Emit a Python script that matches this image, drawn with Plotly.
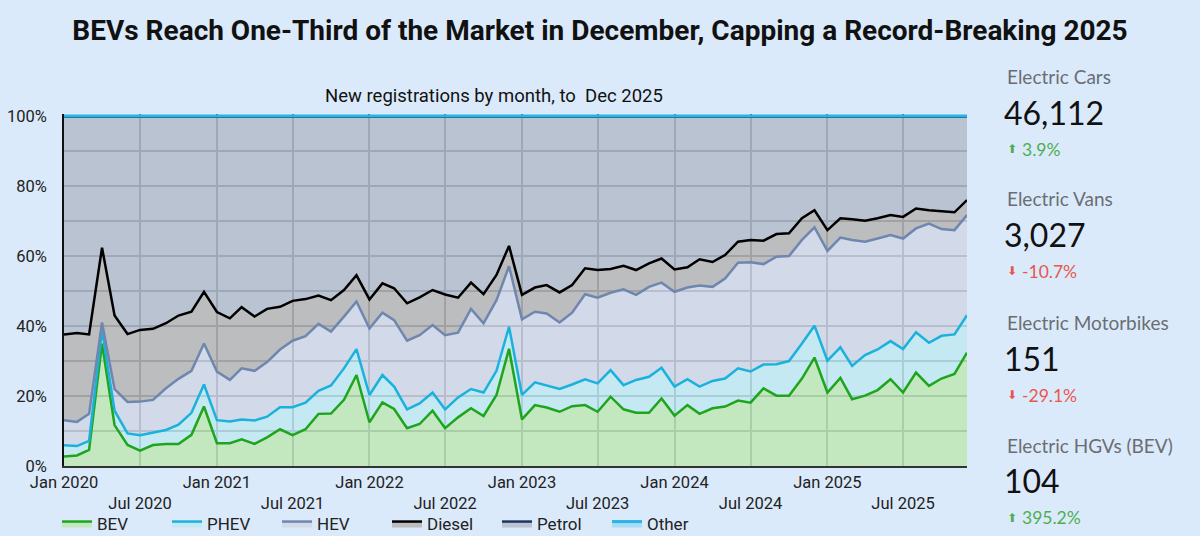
import pandas as pd
import plotly.graph_objects as go

months = pd.date_range("2020-01-01", periods=72, freq="MS")

bev = [2.7, 3.0, 4.6, 35.0, 11.7, 6.0, 4.4, 6.0, 6.3, 6.3, 8.9, 17.0,
       6.5, 6.5, 7.6, 6.3, 8.2, 10.5, 8.8, 10.5, 14.9, 15.0, 18.9, 26.0,
       12.5, 18.2, 16.3, 10.8, 12.0, 15.8, 10.8, 13.9, 16.5, 14.3, 20.3, 33.5,
       13.3, 17.4, 16.7, 15.5, 17.1, 17.4, 15.5, 19.8, 16.2, 15.2, 15.2, 19.3,
       14.4, 17.4, 14.9, 16.5, 17.0, 18.7, 18.1, 22.2, 20.1, 20.1, 25.0, 31.0,
       21.0, 25.2, 19.1, 20.1, 21.7, 24.8, 21.0, 26.7, 22.9, 25.0, 26.3, 32.4]

phev = [3.2, 2.7, 2.6, 3.9, 4.1, 3.3, 4.4, 3.5, 4.0, 5.5, 6.3, 6.3,
        6.6, 6.2, 5.7, 6.7, 5.9, 6.3, 8.0, 7.6, 6.6, 8.0, 9.0, 7.4,
        7.8, 7.8, 6.4, 5.4, 5.9, 5.2, 5.4, 5.7, 5.5, 6.7, 6.9, 6.3,
        7.0, 6.5, 6.2, 6.5, 6.2, 7.4, 8.1, 7.6, 6.9, 9.4, 10.3, 8.8,
        8.3, 7.4, 7.8, 7.8, 8.0, 9.2, 8.9, 6.8, 9.0, 9.9, 10.0, 9.1,
        9.1, 8.7, 9.5, 11.6, 11.6, 10.9, 12.4, 11.5, 12.3, 12.2, 11.3, 10.7]

hev = [7.2, 6.9, 7.7, 2.1, 6.2, 9.0, 9.6, 9.4, 11.9, 13.1, 12.0, 11.7,
       13.9, 11.9, 14.6, 14.2, 15.6, 16.5, 19.0, 19.0, 19.1, 15.4, 14.8, 13.6,
       19.0, 17.8, 19.0, 19.6, 19.5, 19.3, 21.2, 18.5, 22.9, 19.8, 20.2, 17.3,
       21.6, 20.2, 20.7, 19.0, 20.5, 24.3, 24.5, 22.1, 27.4, 24.3, 25.7, 24.3,
       27.1, 26.2, 28.9, 26.9, 28.6, 30.2, 31.2, 28.7, 30.7, 30.0, 29.6, 28.1,
       31.4, 31.4, 36.0, 32.4, 31.7, 30.3, 31.6, 29.7, 34.1, 30.5, 29.8, 28.6]

diesel = [24.5, 25.4, 22.7, 21.4, 21.0, 19.4, 20.5, 20.3, 18.6, 18.1, 16.9, 14.8,
          17.0, 17.6, 17.5, 15.5, 15.2, 12.2, 11.4, 10.6, 8.1, 9.0, 7.6, 7.5,
          8.3, 8.4, 9.1, 10.7, 10.8, 10.0, 11.6, 10.0, 7.5, 8.3, 7.2, 5.8,
          7.0, 6.9, 8.1, 8.6, 7.9, 7.4, 7.9, 6.8, 6.7, 7.1, 6.7, 6.9,
          6.4, 5.8, 7.5, 7.1, 6.7, 6.0, 6.4, 6.7, 6.5, 6.5, 6.2, 4.9,
          5.9, 5.5, 5.9, 6.0, 5.8, 5.7, 6.2, 5.7, 3.8, 5.0, 5.1, 4.3]

petrol = [62.2, 61.8, 62.1, 37.3, 56.8, 62.1, 60.9, 60.6, 59.0, 56.8, 55.7, 50.0,
          55.8, 57.6, 54.4, 57.1, 54.9, 54.3, 52.6, 52.1, 51.1, 52.4, 49.5, 45.3,
          52.2, 47.6, 49.0, 53.3, 51.6, 49.5, 50.8, 51.7, 47.4, 50.7, 45.2, 36.9,
          50.9, 48.8, 48.1, 50.2, 48.1, 43.3, 43.8, 43.5, 42.6, 43.8, 41.9, 40.5,
          43.6, 43.0, 40.7, 41.5, 39.5, 35.7, 35.2, 35.4, 33.5, 33.3, 29.0, 26.7,
          32.4, 29.0, 29.3, 29.7, 29.0, 28.1, 28.6, 26.2, 26.7, 27.1, 27.3, 23.8]

other = [0.2, 0.2, 0.3, 0.3, 0.2, 0.2, 0.2, 0.2, 0.2, 0.2, 0.2, 0.2,
         0.2, 0.2, 0.2, 0.2, 0.2, 0.2, 0.2, 0.2, 0.2, 0.2, 0.2, 0.2,
         0.2, 0.2, 0.2, 0.2, 0.2, 0.2, 0.2, 0.2, 0.2, 0.2, 0.2, 0.2,
         0.2, 0.2, 0.2, 0.2, 0.2, 0.2, 0.2, 0.2, 0.2, 0.2, 0.2, 0.2,
         0.2, 0.2, 0.2, 0.2, 0.2, 0.2, 0.2, 0.2, 0.2, 0.2, 0.2, 0.2,
         0.2, 0.2, 0.2, 0.2, 0.2, 0.2, 0.2, 0.2, 0.2, 0.2, 0.2, 0.2]

x_tick_vals = ["2020-01-01", "2020-07-01", "2021-01-01", "2021-07-01", "2022-01-01",
               "2022-07-01", "2023-01-01", "2023-07-01", "2024-01-01", "2024-07-01",
               "2025-01-01", "2025-07-01"]
x_tick_text = ["Jan 2020", "<br>Jul 2020", "Jan 2021", "<br>Jul 2021", "Jan 2022",
               "<br>Jul 2022", "Jan 2023", "<br>Jul 2023", "Jan 2024", "<br>Jul 2024",
               "Jan 2025", "<br>Jul 2025"]
y_tick_vals = [0, 10, 20, 30, 40, 50, 60, 70, 80, 90, 100]
y_tick_text = ["0%", "", "20%", "", "40%", "", "60%", "", "80%", "", "100%"]

kpi_labels = ["Electric Cars", "Electric Vans", "Electric Motorbikes", "Electric HGVs (BEV)"]
kpi_values = ["46,112", "3,027", "151", "104"]
kpi_changes = ["3.9%", "-10.7%", "-29.1%", "395.2%"]
kpi_up = [True, False, False, True]

series = [
    ("BEV", bev, "#1ea51e", "rgba(189,231,178,0.8)", 2.5),
    ("PHEV", phev, "#1ab2dc", "rgba(190,232,241,0.8)", 2.5),
    ("HEV", hev, "#6f87ae", "rgba(207,212,227,0.8)", 2.5),
    ("Diesel", diesel, "#000000", "rgba(180,177,176,0.8)", 2.5),
    ("Petrol", petrol, "#1c3560", "rgba(176,185,199,0.8)", 2.5),
    ("Other", other, "#28b4e6", "rgba(155,216,243,0.8)", 3),
]

fig = go.Figure()
for name, vals, lc, fc, lw in series:
    fig.add_trace(go.Scatter(
        x=months, y=vals, name=name, stackgroup="one", mode="lines",
        line=dict(color=lc, width=lw), fillcolor=fc,
    ))

BG = "#dbeafb"
YTOP = 100.6
PLOT_H = 350 * YTOP / 100


def py(ypx):
    return (466 - ypx) / PLOT_H


fig.update_layout(
    width=1200, height=536,
    paper_bgcolor=BG, plot_bgcolor=BG,
    margin=dict(l=64, r=233, t=round(466 - PLOT_H), b=70, autoexpand=False),
    font=dict(family="Roboto", size=16, color="#222222"),
    title=dict(text="<b>BEVs Reach One-Third of the Market in December, Capping a Record-Breaking 2025</b>",
               x=0.5, xanchor="center", y=1 - 30 / 536, yanchor="middle",
               font=dict(family="Roboto", size=28, color="#111111")),
    showlegend=True,
    legend=dict(orientation="h", xref="container", x=57 / 1200, xanchor="left", yref="container",
                y=(536 - 524) / 536, yanchor="middle", entrywidth=65, entrywidthmode="pixels",
                font=dict(family="Roboto", size=17, color="#222222"),
                bgcolor="rgba(0,0,0,0)", traceorder="normal"),
    xaxis=dict(range=[months[0], months[-1]], tickvals=x_tick_vals, ticktext=x_tick_text,
               showgrid=True, gridcolor="#5d6776", gridwidth=1.5,
               showline=True, linecolor="#333333", linewidth=2, ticks="",
               tickfont=dict(family="Roboto", size=16.5, color="#222222"), zeroline=False),
    yaxis=dict(range=[0, YTOP], tickvals=y_tick_vals, ticktext=y_tick_text,
               showgrid=True, gridcolor="#5d6776", gridwidth=1.5,
               showline=True, linecolor="#111111", linewidth=1.5, ticks="",
               ticklabelstandoff=12,
               tickfont=dict(family="Roboto", size=16.5, color="#222222"), zeroline=False),
)

fig.add_annotation(text="New registrations by month, to  Dec 2025", xref="paper", yref="paper",
                   x=(493.5 - 64) / 903, y=py(96), xanchor="center", yanchor="middle", showarrow=False,
                   font=dict(family="Roboto", size=18.5, color="#111111"))

x0 = (1005 - 64) / 903
label_y = [76, 198, 322, 445]
for i in range(4):
    yl = label_y[i]
    fig.add_annotation(text=kpi_labels[i], xref="paper", yref="paper",
                       x=x0, y=py(yl), xanchor="left", yanchor="middle", showarrow=False,
                       font=dict(family="Lato", size=19, color="#6a6e73"))
    fig.add_annotation(text=kpi_values[i], xref="paper", yref="paper",
                       x=x0 - 0.003, y=py(yl + 36), xanchor="left", yanchor="middle",
                       showarrow=False, font=dict(family="Lato", size=32, color="#111111"))
    col = "#4caf50" if kpi_up[i] else "#e8564c"
    arrow = "⬆" if kpi_up[i] else "⬇"
    fig.add_annotation(text=arrow, xref="paper", yref="paper",
                       x=x0, y=py(yl + 73), xanchor="left", yanchor="middle",
                       showarrow=False, font=dict(family="DejaVu Sans", size=12, color=col))
    fig.add_annotation(text=kpi_changes[i], xref="paper", yref="paper",
                       x=(1020 - 64) / 903, y=py(yl + 73), xanchor="left", yanchor="middle",
                       showarrow=False, font=dict(family="Lato", size=17.5, color=col))

fig.write_html("out.html", config={"displayModeBar": False},
               post_script="document.body.style.margin='0';document.body.style.overflow='hidden';")
